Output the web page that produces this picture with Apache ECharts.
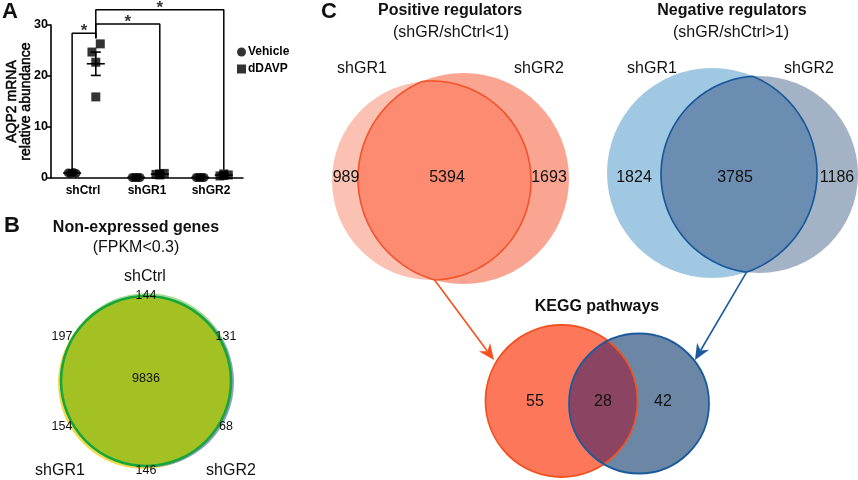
<!DOCTYPE html>
<html><head><meta charset="utf-8">
<script src="https://cdn.jsdelivr.net/npm/echarts@6/dist/echarts.min.js"></script>
<style>html,body{margin:0;padding:0;background:#fff}#c{width:858px;height:480px}</style>
</head><body><div id="c"></div>
<script>
// ---------------- Panel A data ----------------
const groups = ['shCtrl', 'shGR1', 'shGR2'];
const treatments = ['Vehicle', 'dDAVP'];
const vehicleValues = [[1.0, 0.9, 1.1, 0.9], [0.1, 0.1, 0.1, 0.1], [0.1, 0.1, 0.1, 0.1]];
const ddavpValues = [[24.7, 26.3, 22.7, 15.9], [0.7, 0.9, 0.6, 0.8], [0.4, 0.6, 0.8, 0.5]];
const vehicleJitter = [-0.06, -0.02, 0.02, 0.06];
const ddavpJitter = [-0.06, 0.07, 0.0, 0.0];
const yTickValues = [0, 10, 20, 30];
const yAxisTitle = 'AQP2 mRNA\nrelative abundance';
// significance brackets: [groupA, treatA, lowA, groupB, treatB, lowB, height]
const brackets = [
  [0, 'Vehicle', 1.2, 0, 'dDAVP', 27.4, 28.4],
  [0, 'dDAVP', 27.4, 1, 'dDAVP', 1.6, 30.2],
  [0, 'dDAVP', 27.4, 2, 'dDAVP', 1.6, 33.0]
];
const sigLabel = '*';

// ---------------- Panel B data ----------------
const nonExpTitle = 'Non-expressed genes';
const nonExpSubtitle = '(FPKM<0.3)';
const nonExpSets = ['shCtrl', 'shGR1', 'shGR2'];
const nonExpRegions = ['shCtrl only', 'shCtrl∩shGR1', 'shCtrl∩shGR2', 'all', 'shGR1 only', 'shGR2 only', 'shGR1∩shGR2'];
const nonExpCounts = [144, 197, 131, 9836, 154, 68, 146];

// ---------------- Panel C data ----------------
const posTitle = 'Positive regulators';
const posSubtitle = '(shGR/shCtrl<1)';
const negTitle = 'Negative regulators';
const negSubtitle = '(shGR/shCtrl>1)';
const vennSets = ['shGR1', 'shGR2'];
const posCounts = [989, 5394, 1693];
const negCounts = [1824, 3785, 1186];
const keggTitle = 'KEGG pathways';
const keggCounts = [55, 28, 42];

// ---------------- helpers ----------------
const FONT = '"Liberation Sans", Arial, Helvetica, sans-serif';
const xOff = { Vehicle: -0.17, dDAVP: 0.2 };
const xPos = (g, t) => g + 0.5 + xOff[t];

function txt(text, x, y, size, weight, opts) {
  opts = opts || {};
  const al = opts.align || 'center', va = opts.va || 'middle';
  return { type: 'text', x: x, y: y, z: opts.z || 20, rotation: opts.rotation || 0,
    style: { text: text, font: weight + ' ' + size + 'px ' + FONT, fill: opts.fill || '#111',
      align: al, verticalAlign: va, textAlign: al, textVerticalAlign: va } };
}
function circle(c, fill, stroke, lw, z) {
  return { type: 'circle', z: z, shape: { cx: c.cx, cy: c.cy, r: c.r },
    style: { fill: fill || 'none', stroke: stroke || 'none', lineWidth: lw || 0 } };
}
function lens(a, b, n) {
  const dx = b.cx - a.cx, dy = b.cy - a.cy, d = Math.hypot(dx, dy);
  const l = (a.r * a.r - b.r * b.r + d * d) / (2 * d);
  const h = Math.sqrt(a.r * a.r - l * l);
  const ux = dx / d, uy = dy / d;
  const px = a.cx + l * ux, py = a.cy + l * uy;
  const P1 = [px - h * uy, py + h * ux], P2 = [px + h * uy, py - h * ux];
  const mod = v => ((v % (2 * Math.PI)) + 2 * Math.PI) % (2 * Math.PI);
  const arc = (c, from, to, toward) => {
    const t0 = Math.atan2(from[1] - c.cy, from[0] - c.cx);
    const t1 = Math.atan2(to[1] - c.cy, to[0] - c.cx);
    const tm = Math.atan2(toward.cy - c.cy, toward.cx - c.cx);
    const dm = mod(tm - t0), d1 = mod(t1 - t0);
    const delta = dm < d1 ? d1 : d1 - 2 * Math.PI;
    const pts = [];
    for (let i = 0; i <= n; i++) { const t = t0 + delta * i / n; pts.push([c.cx + c.r * Math.cos(t), c.cy + c.r * Math.sin(t)]); }
    return pts;
  };
  const pts = arc(b, P1, P2, a).concat(arc(a, P2, P1, b));
  const bottom = P1[1] > P2[1] ? P1 : P2;
  return { pts: pts, bottom: bottom };
}
function arrow(from, to, color) {
  const dx = to[0] - from[0], dy = to[1] - from[1], L = Math.hypot(dx, dy), ux = dx / L, uy = dy / L;
  const len = 16, hw = 7, notch = 11;
  const base = [to[0] - ux * len, to[1] - uy * len];
  const nx = -uy, ny = ux;
  const left = [base[0] + nx * hw, base[1] + ny * hw], right = [base[0] - nx * hw, base[1] - ny * hw];
  const back = [to[0] - ux * notch, to[1] - uy * notch];
  return [
    { type: 'line', z: 5, shape: { x1: from[0], y1: from[1], x2: back[0], y2: back[1] }, style: { stroke: color, lineWidth: 1.6 } },
    { type: 'polygon', z: 5, shape: { points: [to, left, back, right] }, style: { fill: color } }
  ];
}

// ---------------- Panel A series ----------------
const mean = a => a.reduce((s, v) => s + v, 0) / a.length;
const sem = a => { const m = mean(a); return Math.sqrt(a.reduce((s, v) => s + (v - m) * (v - m), 0) / (a.length - 1)) / Math.sqrt(a.length); };

const vehPts = [], ddPts = [], errData = [];
groups.forEach((g, gi) => {
  vehicleValues[gi].forEach((v, k) => vehPts.push([xPos(gi, 'Vehicle') + vehicleJitter[k], v]));
  ddavpValues[gi].forEach((v, k) => ddPts.push([xPos(gi, 'dDAVP') + ddavpJitter[k], v]));
  errData.push([xPos(gi, 'Vehicle'), mean(vehicleValues[gi]), sem(vehicleValues[gi])]);
  errData.push([xPos(gi, 'dDAVP'), mean(ddavpValues[gi]), sem(ddavpValues[gi])]);
});

const bracketSeries = brackets.map(b => {
  const x1 = xPos(b[0], b[1]), x2 = xPos(b[3], b[4]);
  return { type: 'line', xAxisIndex: 1, clip: false, symbol: 'none', silent: true, z: 3,
    lineStyle: { color: '#000', width: 1.5 }, animation: false,
    data: [[x1, b[2]], [x1, b[6]], [x2, b[6]], [x2, b[5]]] };
});
const starData = brackets.map(b => [(xPos(b[0], b[1]) + xPos(b[3], b[4])) / 2, b[6] + 0.3]);

// ---------------- Panel B / C layout ----------------
const bMain = { cx: 146, cy: 381, r: 85 };
const bHalo = [
  { c: { cx: 147, cy: 379, r: 86 }, color: '#a6dc92' },
  { c: { cx: 144, cy: 383, r: 86 }, color: '#f2da4c' },
  { c: { cx: 148.5, cy: 382, r: 85.5 }, color: '#8e9fc6' }
];
const bLabelPos = [[146, 296], [62, 337], [226, 337], [146, 379], [62, 427], [226, 427], [146, 471]];

const posC = [{ cx: 431.5, cy: 180.5, r: 99.5 }, { cx: 463.5, cy: 178.5, r: 105.5 }];
const negC = [{ cx: 712, cy: 173, r: 105 }, { cx: 759.5, cy: 174.5, r: 98.5 }];
const keggC = [{ cx: 561.5, cy: 401, r: 76 }, { cx: 639, cy: 403.5, r: 70 }];

const G = [];
// panel letters
G.push(txt('A', 2, 12, 22, 'bold', { align: 'left' }));
G.push(txt('B', 4, 226, 22, 'bold', { align: 'left' }));
G.push(txt('C', 321, 12, 22, 'bold', { align: 'left' }));

// Panel B
G.push(txt(nonExpTitle, 136, 228, 16, 'bold'));
G.push(txt(nonExpSubtitle, 136, 248, 16, 'normal'));
G.push(txt(nonExpSets[0], 145, 277, 16, 'normal'));
G.push(txt(nonExpSets[1], 60, 471, 16, 'normal'));
G.push(txt(nonExpSets[2], 231, 471, 16, 'normal'));
bHalo.forEach(h => G.push(circle(h.c, h.color, null, 0, 1)));
G.push(circle(bMain, '#a3c122', '#16a63c', 2.6, 2));
nonExpCounts.forEach((v, i) => G.push(txt(String(v), bLabelPos[i][0], bLabelPos[i][1], 12.5, 'normal')));

// Panel C titles
G.push(txt(posTitle, 450, 11, 16, 'bold'));
G.push(txt(posSubtitle, 451, 33, 16, 'normal'));
G.push(txt(negTitle, 732, 11, 16, 'bold'));
G.push(txt(negSubtitle, 731, 33, 16, 'normal'));
G.push(txt(vennSets[0], 362, 69, 16, 'normal'));
G.push(txt(vennSets[1], 539, 69, 16, 'normal'));
G.push(txt(vennSets[0], 652, 69, 16, 'normal'));
G.push(txt(vennSets[1], 809, 69, 16, 'normal'));

// positive venn
G.push(circle(posC[0], '#fbc1b3', null, 0, 1));
G.push(circle(posC[1], '#f9a592', null, 0, 1));
const posL = lens(posC[0], posC[1], 80);
G.push({ type: 'polygon', z: 2, shape: { points: posL.pts }, style: { fill: '#fc8b72', stroke: '#f2532a', lineWidth: 1.6 } });
G.push(txt(String(posCounts[0]), 346, 178, 16, 'normal'));
G.push(txt(String(posCounts[1]), 447, 178, 16, 'normal'));
G.push(txt(String(posCounts[2]), 549, 178, 16, 'normal'));

// negative venn
G.push(circle(negC[0], '#a1c8e2', null, 0, 1));
G.push(circle(negC[1], '#a3b3c5', null, 0, 1));
const negL = lens(negC[0], negC[1], 80);
G.push({ type: 'polygon', z: 2, shape: { points: negL.pts }, style: { fill: '#6a8db1', stroke: '#14579a', lineWidth: 1.6 } });
G.push(txt(String(negCounts[0]), 634, 178, 16, 'normal'));
G.push(txt(String(negCounts[1]), 735, 178, 16, 'normal'));
G.push(txt(String(negCounts[2]), 837, 178, 16, 'normal'));

// KEGG venn
G.push(txt(keggTitle, 597, 307, 16, 'bold'));
G.push(circle(keggC[0], '#fd775a', null, 0, 1));
G.push(circle(keggC[1], '#6c87a6', null, 0, 1));
const kL = lens(keggC[0], keggC[1], 80);
G.push({ type: 'polygon', z: 2, shape: { points: kL.pts }, style: { fill: '#8b4562' } });
G.push(circle(keggC[0], null, '#f4511e', 1.8, 3));
G.push(circle(keggC[1], null, '#1b5a9c', 1.8, 3));
G.push(txt(String(keggCounts[0]), 535, 402, 16, 'normal'));
G.push(txt(String(keggCounts[1]), 603, 402, 16, 'normal'));
G.push(txt(String(keggCounts[2]), 663, 402, 16, 'normal'));

// arrows
arrow(posL.bottom, [494, 360], '#f4511e').forEach(e => G.push(e));
arrow(negL.bottom, [695, 360], '#1b5a9c').forEach(e => G.push(e));

// ---------------- chart ----------------
const chart = echarts.init(document.getElementById('c'), null, { renderer: 'canvas' });
const axisBlack = { lineStyle: { color: '#000', width: 1.6 } };
chart.setOption({
  backgroundColor: '#fff',
  animation: false,
  textStyle: { fontFamily: FONT },
  grid: { left: 51, top: 25, width: 192, height: 153, containLabel: false },
  legend: {
    left: 232, top: 41, orient: 'vertical', itemWidth: 9, itemHeight: 9, itemGap: 5,
    textStyle: { fontFamily: FONT, fontWeight: 'bold', fontSize: 12, color: '#000', padding: [0, 0, 0, -3] },
    data: [{ name: 'Vehicle', icon: 'circle' }, { name: 'dDAVP', icon: 'rect' }]
  },
  xAxis: [
    { type: 'category', data: groups, axisLine: axisBlack,
      axisTick: { alignWithLabel: true, length: 4, lineStyle: { color: '#000', width: 1.5 } },
      axisLabel: { color: '#000', fontWeight: 'bold', fontSize: 12, margin: 7, fontFamily: FONT } },
    { type: 'value', min: 0, max: 3, show: false }
  ],
  yAxis: {
    type: 'value', min: 0, max: 30, interval: 10,
    axisLine: { show: true, lineStyle: { color: '#000', width: 1.6 } },
    axisTick: { show: true, length: 4, lineStyle: { color: '#000', width: 1.5 } },
    splitLine: { show: false },
    axisLabel: { color: '#000', fontWeight: 'bold', fontSize: 12.5, margin: 3, fontFamily: FONT,
      formatter: v => yTickValues.indexOf(v) >= 0 ? String(v) : '' },
    name: yAxisTitle, nameLocation: 'middle', nameRotate: 90, nameGap: 18, nameMoveOverlap: false,
    nameTextStyle: { color: '#000', fontWeight: 'normal', fontSize: 14, lineHeight: 14, fontFamily: FONT,
      textBorderColor: '#000', textBorderWidth: 0.5 }
  },
  series: [
    { name: 'Vehicle', type: 'scatter', xAxisIndex: 1, symbol: 'circle', symbolSize: 9, z: 4,
      itemStyle: { color: '#000' }, data: vehPts },
    { name: 'dDAVP', type: 'scatter', xAxisIndex: 1, symbol: 'rect', symbolSize: 9, z: 4,
      itemStyle: { color: '#000' }, data: ddPts },
    { type: 'custom', xAxisIndex: 1, z: 5, silent: true, data: errData, encode: { x: 0, y: 1 },
      renderItem: function (params, api) {
        const x = api.value(0), m = api.value(1), s = api.value(2);
        const pm = api.coord([x, m]), pt = api.coord([x, m + s]), pb = api.coord([x, m - s]);
        const st = { stroke: '#000', lineWidth: 1.6 };
        return { type: 'group', children: [
          { type: 'line', shape: { x1: pm[0] - 9, y1: pm[1], x2: pm[0] + 9, y2: pm[1] }, style: st },
          { type: 'line', shape: { x1: pt[0], y1: pt[1], x2: pb[0], y2: pb[1] }, style: st },
          { type: 'line', shape: { x1: pt[0] - 5, y1: pt[1], x2: pt[0] + 5, y2: pt[1] }, style: st },
          { type: 'line', shape: { x1: pb[0] - 5, y1: pb[1], x2: pb[0] + 5, y2: pb[1] }, style: st }
        ] };
      } },
    ...bracketSeries,
    { type: 'scatter', xAxisIndex: 1, clip: false, symbolSize: 1, silent: true, z: 6,
      itemStyle: { color: 'rgba(0,0,0,0)' }, data: starData,
      label: { show: true, position: 'inside', formatter: sigLabel, color: '#000', fontSize: 17, fontWeight: 'bold', fontFamily: FONT } }
  ],
  graphic: G
});
</script></body></html>
